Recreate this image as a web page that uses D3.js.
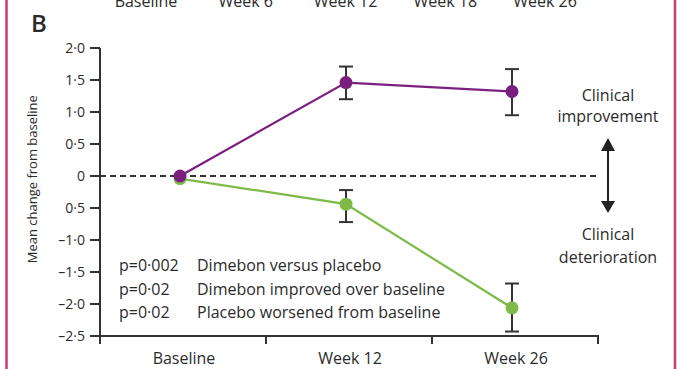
<!DOCTYPE html>
<html>
<head>
<meta charset="utf-8">
<script src="https://cdn.jsdelivr.net/npm/d3@7"></script>
<style>
  body { margin: 0; background: #fff; }
  svg { display: block; }
  text { font-family: "Open Sans", "DejaVu Sans", sans-serif; fill: #2b2b2b; }
</style>
</head>
<body>
<script>
// values (mean change from baseline, with error bar ends)
var weeks = ["Baseline", "Week 12", "Week 26"];
var dimebon = [0, 1.46, 1.32];
var dimebonLow = [null, 1.20, 0.95];
var dimebonHigh = [null, 1.71, 1.67];
var placebo = [-0.04, -0.44, -2.06];
var placeboLow = [null, -0.72, -2.43];
var placeboHigh = [null, -0.22, -1.68];

var yTicks = [2, 1.5, 1, 0.5, 0, -0.5, -1, -1.5, -2, -2.5];
var yTickLabels = ["2·0", "1·5", "1·0", "0·5", "0", "0·5", "–1·0", "–1·5", "–2·0", "–2·5"];

// cut-off axis from the panel above
var topLabels = ["Baseline", "Week 6", "Week 12", "Week 18", "Week 26"];

var pValues = ["p=0·002", "p=0·02", "p=0·02"];
var pNotes = ["Dimebon versus placebo", "Dimebon improved over baseline", "Placebo worsened from baseline"];

var width = 677, height = 369;
var purple = "#7b1f7f", green = "#7dba48", ink = "#333";

var svg = d3.select("body").append("svg")
    .attr("width", width)
    .attr("height", height);

// pink frame
svg.append("line").attr("x1", 6.5).attr("x2", 6.5).attr("y1", 0).attr("y2", height)
    .attr("stroke", "#c63b70").attr("stroke-width", 2.5);
svg.append("line").attr("x1", 675).attr("x2", 675).attr("y1", 0).attr("y2", height)
    .attr("stroke", "#c63b70").attr("stroke-width", 2.5);

// labels of the panel above, mostly cut off
var xTop = d3.scalePoint().domain(topLabels).range([146, 545]);
svg.selectAll(".toplabel").data(topLabels).enter()
    .append("text")
    .attr("class", "toplabel")
    .attr("x", function (d) { return xTop(d); })
    .attr("y", 7)
    .attr("text-anchor", "middle")
    .style("font-size", "16px")
    .text(function (d) { return d; });

svg.append("text")
    .attr("x", 31)
    .attr("y", 32)
    .style("font-size", "24px")
    .style("font-weight", "600")
    .text("B");

var x = d3.scaleBand().domain(weeks).range([100, 598]);
// marks sit a little left of the band centres in the figure
var xp = d3.scalePoint().domain(weeks).range([180, 512]);
var y = d3.scaleLinear().domain([-2.5, 2]).range([336, 48]);
var cx = function (d, i) { return xp(weeks[i]); };

// y axis
var yAxis = svg.append("g").attr("transform", "translate(100,0)");
yAxis.append("line").attr("x1", 0).attr("x2", 0).attr("y1", y(2)).attr("y2", y(-2.5) + 5)
    .attr("stroke", ink).attr("stroke-width", 2);
yAxis.selectAll(".ytick").data(yTicks).enter()
    .append("line")
    .attr("x1", -10).attr("x2", 0)
    .attr("y1", function (d) { return y(d); })
    .attr("y2", function (d) { return y(d); })
    .attr("stroke", ink).attr("stroke-width", 2);
yAxis.selectAll(".ylabel").data(yTicks).enter()
    .append("text")
    .attr("x", -15)
    .attr("y", function (d) { return y(d); })
    .attr("dy", "0.35em")
    .attr("text-anchor", "end")
    .style("font-size", "14px")
    .text(function (d, i) { return yTickLabels[i]; });

svg.append("text")
    .attr("transform", "translate(37," + (y(-0.05)) + ") rotate(-90)")
    .attr("text-anchor", "middle")
    .style("font-size", "13px")
    .text("Mean change from baseline");

// x axis with ticks between categories
var xEdges = weeks.map(function (d) { return x(d); }).concat([x.range()[1]]);
svg.append("line").attr("x1", 95).attr("x2", 599).attr("y1", y(-2.5)).attr("y2", y(-2.5))
    .attr("stroke", ink).attr("stroke-width", 2);
svg.selectAll(".xtick").data(xEdges).enter()
    .append("line")
    .attr("x1", function (d) { return d; })
    .attr("x2", function (d) { return d; })
    .attr("y1", y(-2.5))
    .attr("y2", y(-2.5) + 8)
    .attr("stroke", ink).attr("stroke-width", 2);
svg.selectAll(".xlabel").data(weeks).enter()
    .append("text")
    .attr("x", function (d) { return x(d) + x.bandwidth() / 2 + 1; })
    .attr("y", 364)
    .attr("text-anchor", "middle")
    .style("font-size", "16px")
    .text(function (d) { return d; });

// zero line
svg.append("line")
    .attr("x1", 100).attr("x2", 598)
    .attr("y1", y(0)).attr("y2", y(0))
    .attr("stroke", ink).attr("stroke-width", 1.8)
    .attr("stroke-dasharray", "6,4");

function series(values, low, high, color) {
    var line = d3.line()
        .x(function (d, i) { return cx(d, i); })
        .y(function (d) { return y(d); });
    svg.append("path")
        .datum(values)
        .attr("d", line)
        .attr("fill", "none")
        .attr("stroke", color)
        .attr("stroke-width", 2.2);
    var bars = values.map(function (d, i) { return { i: i, lo: low[i], hi: high[i] }; })
        .filter(function (d) { return d.lo !== null; });
    svg.selectAll(null).data(bars).enter()
        .append("line")
        .attr("x1", function (d) { return cx(null, d.i); })
        .attr("x2", function (d) { return cx(null, d.i); })
        .attr("y1", function (d) { return y(d.lo); })
        .attr("y2", function (d) { return y(d.hi); })
        .attr("stroke", ink).attr("stroke-width", 2);
    ["lo", "hi"].forEach(function (k) {
        svg.selectAll(null).data(bars).enter()
            .append("line")
            .attr("x1", function (d) { return cx(null, d.i) - 7; })
            .attr("x2", function (d) { return cx(null, d.i) + 7; })
            .attr("y1", function (d) { return y(d[k]); })
            .attr("y2", function (d) { return y(d[k]); })
            .attr("stroke", ink).attr("stroke-width", 2);
    });
    svg.selectAll(null).data(values).enter()
        .append("circle")
        .attr("cx", function (d, i) { return cx(d, i); })
        .attr("cy", function (d) { return y(d); })
        .attr("r", 6.5)
        .attr("fill", color);
}
series(placebo, placeboLow, placeboHigh, green);
series(dimebon, dimebonLow, dimebonHigh, purple);

// direction arrow
var ax = 608;
svg.append("line").attr("x1", ax).attr("x2", ax).attr("y1", 148).attr("y2", 204)
    .attr("stroke", "#222").attr("stroke-width", 2);
svg.append("path").attr("d", "M" + ax + ",138 L" + (ax - 7) + ",151 L" + (ax + 7) + ",151Z").attr("fill", "#222");
svg.append("path").attr("d", "M" + ax + ",213 L" + (ax - 7) + ",201 L" + (ax + 7) + ",201Z").attr("fill", "#222");

var notes = [["Clinical", 101], ["improvement", 122], ["Clinical", 240], ["deterioration", 263]];
svg.selectAll(".note").data(notes).enter()
    .append("text")
    .attr("x", ax)
    .attr("y", function (d) { return d[1]; })
    .attr("text-anchor", "middle")
    .style("font-size", "16px")
    .text(function (d) { return d[0]; });

// p values
svg.selectAll(".pval").data(pValues).enter()
    .append("text")
    .attr("x", 119)
    .attr("y", function (d, i) { return 271 + i * 23.5; })
    .style("font-size", "16px")
    .text(function (d) { return d; });
svg.selectAll(".pnote").data(pNotes).enter()
    .append("text")
    .attr("x", 197)
    .attr("y", function (d, i) { return 271 + i * 23.5; })
    .style("font-size", "16px")
    .text(function (d) { return d; });
</script>
</body>
</html>
